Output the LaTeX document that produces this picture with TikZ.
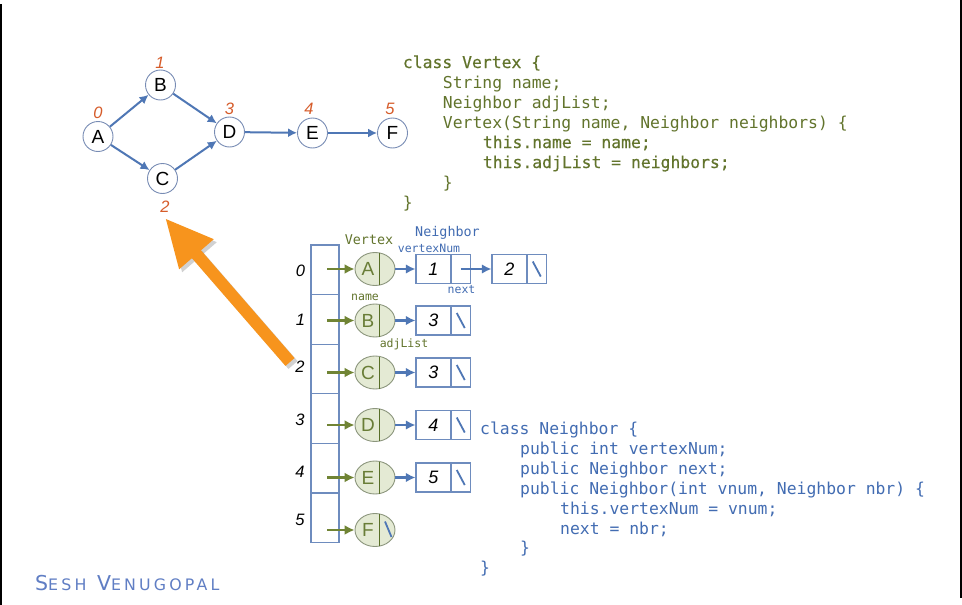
\documentclass[tikz,border=0pt]{standalone}
\usepackage{fontspec}
\setmainfont{Liberation Sans}
\setmonofont{DejaVu Sans Mono}
\newfontfamily\codebold[FakeBold=0.4]{DejaVu Sans Mono}
\newfontfamily\footfont[LetterSpace=20]{DejaVu Sans}
\usetikzlibrary{arrows.meta,shapes.geometric}

\definecolor{edgeblue}{RGB}{79,119,181}
\definecolor{numorange}{RGB}{214,92,42}
\definecolor{codegreen}{RGB}{98,116,44}
\definecolor{codeblue}{RGB}{66,108,178}
\definecolor{arrgreen}{RGB}{112,132,52}
\definecolor{vfill}{RGB}{228,234,212}
\definecolor{vborder}{RGB}{140,150,125}
\definecolor{vdivider}{RGB}{88,110,40}
\definecolor{vletter}{RGB}{105,125,55}
\definecolor{boxblue}{RGB}{110,140,190}
\definecolor{circborder}{RGB}{120,140,180}
\definecolor{bigorange}{RGB}{247,148,29}
\definecolor{footblue}{RGB}{96,126,196}

\tikzset{
  gnode/.style={circle, draw=circborder, line width=0.9, fill=white, minimum size=30, inner sep=0,
    font=\fontsize{19}{19}\selectfont},
  gedge/.style={draw=edgeblue, line width=2, -{Latex[length=9,width=9]}},
  glabel/.style={text=numorange, font=\fontsize{16.5}{16.5}\selectfont\itshape, inner sep=0},
  vcode/.style={anchor=base west, inner sep=0, text=codegreen, font=\fontsize{16.4}{20}\ttfamily},
  ncode/.style={anchor=base west, inner sep=0, text=codeblue, font=\fontsize{16.4}{20}\ttfamily},
  cellbox/.style={draw=boxblue, line width=1.2, minimum width=28, minimum height=49.6, inner sep=0},
  idx/.style={font=\fontsize{16.5}{16.5}\selectfont\itshape, inner sep=0},
  vnode/.style={ellipse, draw=vborder, line width=0.9, fill=vfill, minimum width=40, minimum height=33, inner sep=0},
  vtext/.style={text=vletter, font=\fontsize{19}{19}\selectfont, inner sep=0},
  vdiv/.style={draw=vdivider, line width=1.6},
  garrow/.style={draw=arrgreen, line width=2.7, -{Latex[length=10,width=10]}},
  barrow/.style={draw=edgeblue, line width=2.2, -{Latex[length=9.5,width=9.5]}},
  numcell/.style={draw=boxblue, line width=1.1, minimum width=35, minimum height=29, inner sep=0,
    font=\fontsize{18}{18}\selectfont\itshape},
  nextcell/.style={draw=boxblue, line width=1.1, minimum width=19.5, minimum height=29, inner sep=0},
  nullslash/.style={draw=edgeblue, line width=1.8},
  tagsmall/.style={inner sep=0, font=\fontsize{11.5}{11.5}\ttfamily},
  tagbig/.style={inner sep=0, font=\fontsize{13.4}{13.4}\ttfamily},
}

\begin{document}
\begin{tikzpicture}[x=1pt, y=-1pt]
  \useasboundingbox (0,0) rectangle (962,605);
  \fill[white] (0,0) rectangle (962,605);
  % frame edges
  \draw[black, line width=1.6] (0.8,4) -- (0.8,605);
  \draw[black, line width=1.6] (961.2,0) -- (961.2,598);

  % ---------- small graph ----------
  \node[gnode] (gA) at (98,136.5) {A};
  \node[gnode] (gB) at (160.5,85) {B};
  \node[gnode] (gC) at (162.5,178.5) {C};
  \node[gnode] (gD) at (229.5,132) {D};
  \node[gnode] (gE) at (312.5,133) {E};
  \node[gnode] (gF) at (392.5,133) {F};
  \draw[gedge] (gA) -- (gB);
  \draw[gedge] (gA) -- (gC);
  \draw[gedge] (gB) -- (gD);
  \draw[gedge] (gC) -- (gD);
  \draw[gedge] (gD) -- (gE);
  \draw[gedge] (gE) -- (gF);
  \node[glabel] (lA) at (98,113) {0};
  \node[glabel] (lB) at (160,63) {1};
  \node[glabel] (lC) at (165,207) {2};
  \node[glabel] (lD) at (229.5,109) {3};
  \node[glabel] (lE) at (309,109) {4};
  \node[glabel] (lF) at (390,109) {5};

  % ---------- class Vertex ----------
  \node[vcode] (vc1) at (402.7,68) {\codebold class Vertex \{};
  \node[vcode] (vc2) at (442.7,88) {String name;};
  \node[vcode] (vc3) at (442.7,108) {Neighbor adjList;};
  \node[vcode] (vc4) at (442.7,128) {Vertex(String name, Neighbor neighbors) \{};
  \node[vcode] (vc5) at (482.7,148) {\codebold this.name = name;};
  \node[vcode] (vc6) at (482.7,168) {\codebold this.adjList = neighbors;};
  \node[vcode] (vc7) at (442.7,188) {\}};
  \node[vcode] (vc8) at (402.7,208) {\}};

  % ---------- class Neighbor ----------
  \node[ncode] (nc1) at (480,434.3) {class Neighbor \{};
  \node[ncode] (nc2) at (520,454.3) {public int vertexNum;};
  \node[ncode] (nc3) at (520,474.3) {public Neighbor next;};
  \node[ncode] (nc4) at (520,494.3) {public Neighbor(int vnum, Neighbor nbr) \{};
  \node[ncode] (nc5) at (560,514.3) {this.vertexNum = vnum;};
  \node[ncode] (nc6) at (560,534.3) {next = nbr;};
  \node[ncode] (nc7) at (520,553.3) {\}};
  \node[ncode] (nc8) at (480,573.3) {\}};

  % ---------- big orange pointer ----------
  \coordinate (oTail) at (290,362);
  \coordinate (oTip) at (165,218);
  \draw[black, opacity=0.18, line width=12, -{Triangle[length=48,width=42]}]
    ([shift={(3,3)}]oTail) -- ([shift={(3,3)}]oTip);
  \draw[bigorange, line width=12, -{Triangle[length=48,width=42]}] (oTail) -- (oTip);

  % ---------- vertex array ----------
  \foreach \i/\cy in {0/269.8, 1/319.4, 2/369, 3/418.6, 4/468.2, 5/517.8} {
    \node[cellbox] (c\i) at (325,\cy) {};
  }
  \node[idx] (i0) at (300.5,271) {0};
  \node[idx] (i1) at (300.5,320) {1};
  \node[idx] (i2) at (300,367) {2};
  \node[idx] (i3) at (300,420) {3};
  \node[idx] (i4) at (300,471.5) {4};
  \node[idx] (i5) at (300,520) {5};

  % vertex records: ellipse, name, divider, arrow from array slot
  \foreach \v/\ry in {A/269, B/320.5, C/372.5, D/425, E/477.5, F/530} {
    \node[vnode] (v\v) at (375,\ry) {};
    \node[vtext] (t\v) at (368,\ry) {\v};
    \draw[vdiv] (379.3,\ry-16) -- (379.3,\ry+16);
    \coordinate (s\v) at (327,\ry);
    \draw[garrow] (s\v) -- (v\v);
  }
  \draw[nullslash] (385,521.5) -- (391.5,537);

  % neighbor lists
  \foreach \v/\ry/\num in {A/269/1, B/320.5/3, C/372.5/3, D/425/4, E/477.5/5} {
    \node[numcell] (n\v) at (433.5,\ry) {\num};
    \node[nextcell] (m\v) at (460.75,\ry) {};
    \draw[barrow] (v\v) -- (n\v);
  }
  \foreach \v/\ry in {B/320.5, C/372.5, D/425, E/477.5} {
    \draw[nullslash] (456.75,\ry-7.5) -- (464.75,\ry+7.5);
  }
  \node[numcell] (nA2) at (509.5,269) {2};
  \node[nextcell] (mA2) at (536.75,269) {};
  \draw[barrow] (mA.center) -- (nA2);
  \draw[nullslash] (532.75,261.5) -- (540.75,276.5);

  % field tags
  \node[tagbig, text=codegreen] (tVertex) at (369,240) {Vertex};
  \node[tagbig, text=codeblue] (tNeighbor) at (447.5,233) {Neighbor};
  \node[tagsmall, text=codeblue] (tvnum) at (429,248.5) {vertexNum};
  \node[tagsmall, text=codeblue] (tnext) at (461.5,290) {next};
  \node[tagsmall, text=codegreen] (tname) at (365,297.5) {name};
  \node[tagsmall, text=codegreen] (tadj) at (404,344) {adjList};

  % author credit
  \node[anchor=base west, inner sep=0, text=footblue] (credit) at (35,590)
    {\footfont\fontsize{20.5}{20.5}\selectfont S\fontsize{15.8}{15.8}\selectfont ESH\fontsize{20.5}{20.5}\selectfont\ V\fontsize{15.8}{15.8}\selectfont ENUGOPAL};
\end{tikzpicture}
\end{document}
